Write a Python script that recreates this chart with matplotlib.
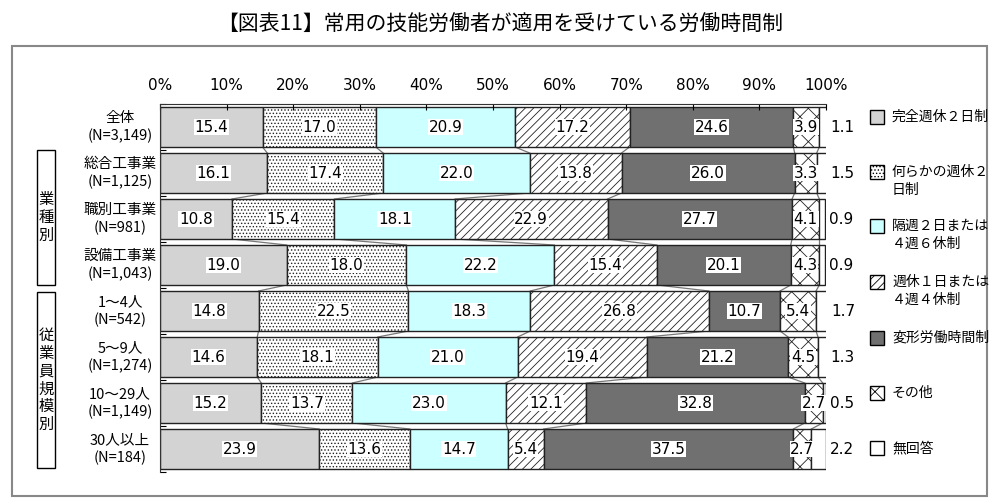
import matplotlib
matplotlib.use("Agg")
import matplotlib.pyplot as plt
from matplotlib.patches import Rectangle
import numpy as np

plt.rcParams['font.family'] = ['Noto Sans CJK JP']
plt.rcParams['hatch.linewidth'] = 0.6

title = "【図表11】常用の技能労働者が適用を受けている労働時間制"
categories = ["全体\n(N=3,149)", "総合工事業\n(N=1,125)", "職別工事業\n(N=981)", "設備工事業\n(N=1,043)",
              "1〜4人\n(N=542)", "5〜9人\n(N=1,274)", "10〜29人\n(N=1,149)", "30人以上\n(N=184)"]
series_names = ["完全週休２日制", "何らかの週休２\n日制", "隔週２日または\n４週６休制", "週休１日または\n４週４休制",
                "変形労働時間制", "その他", "無回答"]
kanzen = [15.4, 16.1, 10.8, 19.0, 14.8, 14.6, 15.2, 23.9]
nanraka = [17.0, 17.4, 15.4, 18.0, 22.5, 18.1, 13.7, 13.6]
kakushu = [20.9, 22.0, 18.1, 22.2, 18.3, 21.0, 23.0, 14.7]
shukyu1 = [17.2, 13.8, 22.9, 15.4, 26.8, 19.4, 12.1, 5.4]
henkei = [24.6, 26.0, 27.7, 20.1, 10.7, 21.2, 32.8, 37.5]
sonota = [3.9, 3.3, 4.1, 4.3, 5.4, 4.5, 2.7, 2.7]
mukaito = [1.1, 1.5, 0.9, 0.9, 1.7, 1.3, 0.5, 2.2]
group_labels = ["業種別", "従業員規模別"]
xticks = [0, 10, 20, 30, 40, 50, 60, 70, 80, 90, 100]

series = [kanzen, nanraka, kakushu, shukyu1, henkei, sonota, mukaito]
colors = ['#d3d3d3', 'white', '#ccffff', 'white', '#707070', 'white', 'white']
hatches = [None, '.....', None, '////', None, 'xx', None]

fig = plt.figure(figsize=(10, 5.04), dpi=100)
ax = fig.add_axes([0.16, 1 - 472/504, 0.666, 368/504])
n = len(categories)
y = np.arange(n)
h = 0.87
left = np.zeros(n)
cums = [left.copy()]
for k, (vals, c, ht) in enumerate(zip(series, colors, hatches)):
    vals = np.array(vals)
    ax.barh(y, vals, left=left, height=h, color=c, hatch=ht, edgecolor='#222222', linewidth=1.0)
    for i in range(n):
        if k == len(series) - 1:
            ax.text(left[i] + vals[i] + 0.6, y[i], f"{vals[i]:.1f}", ha='left', va='center', fontsize=11,
                    fontfamily='DejaVu Sans', clip_on=False)
        else:
            ax.text(left[i] + vals[i] / 2, y[i], f"{vals[i]:.1f}", ha='center', va='center', fontsize=11,
                    fontfamily='DejaVu Sans',
                    bbox=dict(facecolor='white', edgecolor='none', pad=0.5))
    left = left + vals
    cums.append(left.copy())

for cum in cums[1:-1]:
    for i in range(n - 1):
        ax.plot([cum[i], cum[i + 1]], [i + h / 2, i + 1 - h / 2], color='#777777', lw=0.9, zorder=0.5)

ax.set_xlim(0, 100)
ax.set_ylim(n - 0.5, -0.5)
ax.xaxis.tick_top()
ax.set_xticks(xticks)
ax.set_xticklabels([f"{t}%" for t in xticks], fontsize=11, fontfamily='DejaVu Sans')
ax.set_yticks(np.arange(n + 1) - 0.5)
ax.set_yticklabels([])
ax.tick_params(axis='y', length=4, direction='in')
ax.tick_params(axis='x', length=4, direction='in', pad=8)
for s in ['right', 'bottom']:
    ax.spines[s].set_visible(False)
ax.spines['top'].set_color('#333333')
ax.spines['left'].set_color('#333333')

for i, lab in enumerate(categories):
    ax.text(-6, i, lab, ha='center', va='center', fontsize=10.5, clip_on=False, linespacing=1.3)

# group boxes
def px(xp, yp):
    return xp / 1000, 1 - yp / 504
for lab, (y0, y1) in zip(group_labels, [(150, 285), (292, 468)]):
    fig.patches.append(Rectangle(px(37, y1), 18 / 1000, (y1 - y0) / 504, transform=fig.transFigure,
                                 facecolor='white', edgecolor='black', lw=1.0))
    fig.text(46 / 1000, 1 - (y0 + y1) / 2 / 504, "\n".join(lab), ha='center', va='center', fontsize=11,
             linespacing=1.05)

# outer box
fig.patches.append(Rectangle(px(12, 496), 975 / 1000, 450 / 504, transform=fig.transFigure,
                             facecolor='none', edgecolor='#888888', lw=1.5))

fig.text(0.5, 1 - 25 / 504, title, ha='center', va='center', fontsize=15)

# legend
ly = [117, 172, 226, 282, 338, 393, 448]
for yy, name, c, ht in zip(ly, series_names, colors, hatches):
    fig.patches.append(Rectangle(px(870, yy + 7), 14 / 1000, 14 / 504, transform=fig.transFigure,
                                 facecolor=c, hatch=ht, edgecolor='black', lw=1.0))
    lines = name.split("\n")
    fig.text(892 / 1000, 1 - yy / 504, lines[0], ha='left', va='center', fontsize=10)
    if len(lines) > 1:
        fig.text(892 / 1000, 1 - (yy + 18) / 504, lines[1], ha='left', va='center', fontsize=10)

fig.savefig("out.png", dpi=100)
